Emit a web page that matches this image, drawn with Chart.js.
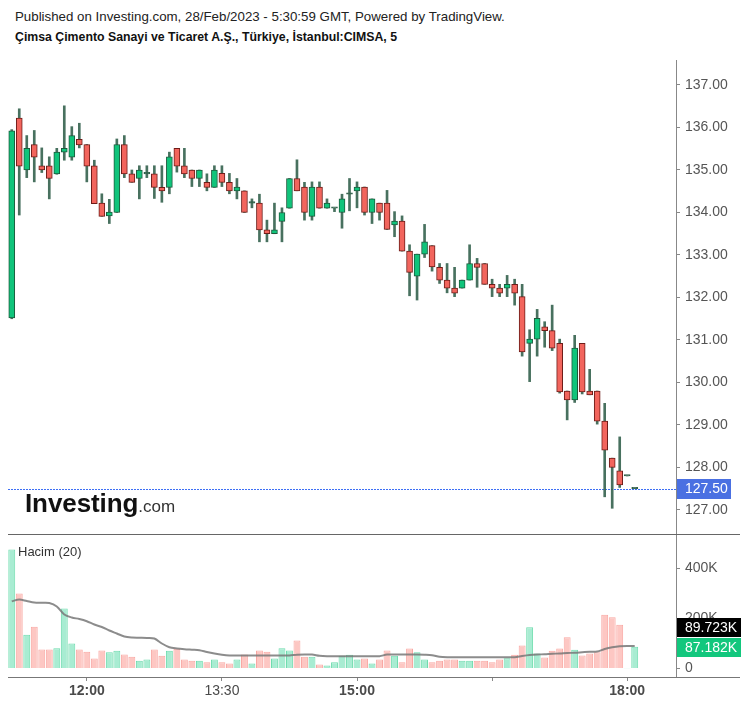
<!DOCTYPE html>
<html>
<head>
<meta charset="utf-8">
<script src="https://cdn.jsdelivr.net/npm/chart.js@4.4.0/dist/chart.umd.min.js"></script>
<style>
html,body{margin:0;padding:0;background:#fff;width:747px;height:707px;overflow:hidden;font-family:"Liberation Sans",Arial,sans-serif;}
#h1{position:absolute;left:15px;top:9px;font-size:13.3px;line-height:15px;color:#222;white-space:nowrap;}
#h2{position:absolute;left:15px;top:30px;font-size:12.3px;line-height:14px;font-weight:bold;color:#111;white-space:nowrap;}
#cA{position:absolute;left:0;top:55px;}
#cB{position:absolute;left:0;top:535px;}
#logo{position:absolute;left:25px;top:491px;line-height:25px;white-space:nowrap;color:#111;z-index:5;}
#logo b{font-size:26px;font-weight:bold;letter-spacing:-0.1px;}
#logo span{font-size:17px;color:#333;}
#hacim{position:absolute;left:18px;top:544px;font-size:13px;line-height:15px;color:#333;z-index:5;}
</style>
</head>
<body>
<div id="h1">Published on Investing.com, 28/Feb/2023 - 5:30:59 GMT, Powered by TradingView.</div>
<div id="h2">Çimsa Çimento Sanayi ve Ticaret A.Ş., Türkiye, İstanbul:CIMSA, 5</div>
<canvas id="cA" width="747" height="480"></canvas>
<canvas id="cB" width="747" height="172"></canvas>
<div id="logo"><b>Investing</b><span>.com</span></div>
<div id="hacim">Hacim (20)</div>
<script>
const FONT = '"Liberation Sans", Arial, sans-serif';

const times = ["11:10","11:15","11:20","11:25","11:30","11:35","11:40","11:45","11:50","11:55",
"12:00","12:05","12:10","12:15","12:20","12:25","12:30","12:35","12:40","12:45","12:50","12:55",
"13:00","13:05","13:10","13:15","13:20","13:25","13:30","13:35","13:40","13:45","13:50","13:55",
"14:00","14:05","14:10","14:15","14:20","14:25","14:30","14:35","14:40","14:45","14:50","14:55",
"15:00","15:05","15:10","15:15","15:20","15:25","15:30","15:35","15:40","15:45","15:50","15:55",
"16:00","16:05","16:10","16:15","16:20","16:25","16:30","16:35","16:40","16:45","16:50","16:55",
"17:00","17:05","17:10","17:15","17:20","17:25","17:30","17:35","17:40","17:45","17:50","17:55",
"18:00","18:05"];
const futureSlots = ["18:10","18:15","18:20","18:25","18:30"];

const open = [131.52,136.22,135.00,135.60,135.10,135.10,134.91,135.42,135.30,135.72,
135.60,135.10,134.22,133.92,134.00,135.60,134.91,134.80,134.91,134.91,
134.59,134.59,135.51,135.10,135.00,134.80,134.71,134.59,134.92,134.71,
134.51,134.51,134.22,134.22,133.59,133.50,133.79,134.10,134.80,134.60,
133.91,134.60,134.10,134.10,134.00,134.43,134.51,134.60,134.00,134.22,
134.22,133.71,133.80,133.09,132.50,133.02,133.22,132.71,132.41,132.22,
132.22,132.41,132.80,132.80,132.31,132.22,132.22,132.31,132.02,130.92,
131.02,131.31,131.22,130.92,129.80,129.59,130.92,129.80,129.80,129.09,
128.22,127.92,127.80,127.50];

const high = [135.95,136.44,135.81,135.93,135.52,135.31,135.51,136.51,136.02,136.10,
135.60,135.23,134.44,134.31,135.73,135.81,135.00,135.10,135.10,135.10,
135.10,135.42,135.51,135.51,135.00,135.00,134.91,135.10,135.10,134.92,
134.80,134.51,134.32,134.43,133.82,134.22,134.11,134.80,135.24,134.71,
134.72,134.72,134.32,134.10,134.43,134.80,134.72,134.60,134.32,134.22,
134.52,134.02,133.92,133.24,133.02,133.72,133.22,132.80,132.80,132.71,
132.41,133.24,132.92,132.80,132.43,132.31,132.52,132.43,132.31,131.24,
131.72,131.43,131.82,131.02,129.80,131.11,130.92,130.31,129.80,129.51,
128.22,128.72,127.80,127.50];

const low = [131.50,133.94,134.82,134.72,134.94,134.32,134.90,135.23,135.23,135.52,
134.72,134.21,133.91,133.74,134.00,134.82,134.71,134.32,134.82,134.33,
134.24,134.44,134.95,134.82,134.61,134.61,134.51,134.59,134.61,134.44,
134.32,134.00,134.11,133.31,133.31,133.50,133.31,134.10,134.51,133.82,
133.82,134.10,134.10,134.02,133.63,134.04,134.11,133.94,133.74,133.82,
133.60,133.43,133.09,132.04,131.94,132.94,132.62,132.33,132.11,132.02,
132.22,132.41,132.24,132.31,132.02,132.02,132.02,131.82,130.62,130.02,
130.62,130.83,130.75,129.75,129.12,129.53,129.73,129.71,129.02,127.31,
127.04,127.53,127.80,127.50];

const close = [135.92,135.09,135.51,135.30,135.00,134.80,135.42,135.51,135.81,135.59,
135.09,134.21,133.91,134.01,135.60,134.91,134.71,135.00,134.91,134.59,
134.51,135.31,135.09,134.91,134.80,135.00,134.59,135.00,134.71,134.51,
134.60,134.00,134.22,133.59,133.50,133.59,134.00,134.80,134.51,134.00,
134.60,134.10,134.22,134.10,134.32,134.43,134.60,134.00,134.32,134.00,
133.60,133.80,133.09,132.59,133.02,133.31,132.72,132.41,132.22,132.10,
132.41,132.80,132.71,132.31,132.22,132.10,132.31,132.10,130.72,131.02,
131.51,131.22,130.81,129.78,129.59,130.81,129.78,129.71,129.09,128.41,
128.00,127.59,127.80,127.50];

const volume = [476000,300000,135000,167000,76000,76000,81000,240000,100000,76000,
67000,40000,72000,65000,71000,56000,47000,31000,36000,76000,
51000,71000,79000,36000,31000,31000,25000,36000,25000,20000,
36000,56000,20000,72000,67000,40000,81000,72000,112000,47000,
47000,16000,12000,25000,51000,55000,36000,40000,20000,36000,
72000,51000,25000,80000,65000,36000,25000,31000,36000,36000,
31000,31000,31000,31000,25000,36000,41000,55000,92000,165000,
60000,44000,71000,80000,125000,75000,52000,60000,65000,215000,
205000,175000,1500,87182];

const volMA = [269000,276000,270000,264000,263000,262000,248000,216000,204000,198000,
189000,176000,166000,152000,140000,128000,124000,123000,122000,120000,
100000,85000,80000,77000,75000,73000,66000,60000,55000,52000,
52000,52000,52000,52000,52000,52000,52000,52000,55000,56000,
56000,51000,49000,49000,49000,49000,49000,49000,49000,49000,
56000,56000,56000,56000,56000,55000,53000,47000,45000,45000,
45000,45000,45000,45000,45000,45000,45000,45000,50000,54000,
56000,57000,59000,60000,62000,63000,65000,67000,68000,78000,
85000,89000,90000,89723];

const priceTicks = [127,128,129,130,131,132,133,134,135,136,137];
const volumeTicks = [0,200000,400000];
const axisTimes = ["12:00","13:30","15:00","16:30","18:00"];
const boldTimes = ["12:00","15:00","18:00"];
const hiddenTimes = ["16:30"];
const lastPrice = 127.50;

const slots = times.concat(futureSlots);
const isUp = close.map((c,i)=> c >= open[i]);
const isDoji = close.map((c,i)=> c === open[i]);

const bodyData = open.map((o,i)=>[o, close[i]]);
const wickData = low.map((l,i)=>[l, high[i]]);
const bodyFill = isUp.map((u,i)=> isDoji[i] ? '#2f5f49' : (u ? '#10c47b' : '#f2655d'));
const bodyBorder = isUp.map((u,i)=> isDoji[i] ? '#2f5f49' : (u ? '#1c5a3c' : '#6e1c18'));
const volFill = isUp.map(u=> u ? '#a8ecd2' : '#fdc7c3');
const volBorder = isUp.map(u=> u ? '#6fdcae' : '#f9a7a2');

const priceDeco = {
  id:'priceDeco',
  beforeDatasetsDraw(chart){
    const {ctx, chartArea, scales:{y}} = chart;
    const py = Math.round(y.getPixelForValue(lastPrice));
    ctx.save();
    ctx.fillStyle = '#3d6ff5';
    for (let x = Math.round(chartArea.left); x < chartArea.right; x += 3) {
      ctx.fillRect(x, py, 2, 1);
    }
    ctx.restore();
  },
  afterDraw(chart){
    const {ctx, chartArea, scales:{y}} = chart;
    const py = y.getPixelForValue(lastPrice);
    ctx.save();
    ctx.fillStyle = '#4a70e2';
    ctx.fillRect(chartArea.right + 1, Math.round(py) - 10, 54, 20);
    ctx.fillStyle = '#ffffff';
    ctx.font = '14px ' + FONT;
    ctx.textBaseline = 'middle';
    ctx.textAlign = 'left';
    ctx.fillText(lastPrice.toFixed(2), chartArea.right + 9, py + 0.5);
    ctx.strokeStyle = '#666';
    ctx.lineWidth = 1;
    ctx.beginPath(); ctx.moveTo(chartArea.left, chartArea.bottom + 0.5); ctx.lineTo(740, chartArea.bottom + 0.5); ctx.stroke();
    ctx.restore();
  }
};

new Chart(document.getElementById('cA'), {
  type:'bar',
  data:{
    labels: slots,
    datasets:[
      {label:'wick', data: wickData, backgroundColor:'rgba(52,98,78,0.9)', barThickness:2, grouped:false, order:2},
      {label:'body', data: bodyData, backgroundColor: bodyFill, borderColor: bodyBorder, borderWidth:1, borderSkipped:false, barThickness:6, minBarLength:1.5, grouped:false, order:1}
    ]
  },
  options:{
    responsive:false, animation:false, devicePixelRatio:1,
    layout:{padding:{left:8, top:5, right:0, bottom:1}},
    plugins:{legend:{display:false}, tooltip:{enabled:false}},
    scales:{
      x:{display:false, offset:true, grid:{display:false}},
      y:{
        position:'right', min:126.435, max:137.588,
        afterFit(s){ s.width = 71; s.paddingTop = 0; s.paddingBottom = 0; },
        afterBuildTicks(s){ s.ticks = priceTicks.map(v=>({value:v})); },
        ticks:{callback:v=>Number(v).toFixed(2), color:'#555', font:{size:14, family:FONT}, padding:5},
        grid:{drawOnChartArea:false, drawTicks:true, tickLength:4, color:'#888'},
        border:{display:true, color:'#888'}
      }
    }
  },
  plugins:[priceDeco]
});

const volDeco = {
  id:'volDeco',
  afterDraw(chart){
    const {ctx, chartArea, scales:{y}} = chart;
    ctx.save();
    ctx.strokeStyle = '#777';
    ctx.lineWidth = 1;
    ctx.beginPath(); ctx.moveTo(chartArea.left, chartArea.bottom + 0.5); ctx.lineTo(740, chartArea.bottom + 0.5); ctx.stroke();
    const vLast = volume[volume.length-1];
    const mLast = volMA[volMA.length-1];
    const gy = Math.round(y.getPixelForValue(vLast)) + 1;
    let by = Math.round(y.getPixelForValue(mLast));
    if (by > gy - 20) by = gy - 20;
    ctx.font = '14px ' + FONT;
    ctx.textBaseline = 'middle';
    ctx.textAlign = 'left';
    ctx.fillStyle = '#000';
    ctx.fillRect(chartArea.right + 1, by - 10, 64, 19);
    ctx.fillStyle = '#fff';
    ctx.fillText((mLast/1000).toFixed(3) + 'K', chartArea.right + 9, by);
    ctx.fillStyle = '#12c77d';
    ctx.fillRect(chartArea.right + 1, gy - 10, 64, 19);
    ctx.fillStyle = '#fff';
    ctx.fillText((vLast/1000).toFixed(3) + 'K', chartArea.right + 9, gy);
    ctx.restore();
  }
};

new Chart(document.getElementById('cB'), {
  data:{
    labels: slots,
    datasets:[
      {type:'line', label:'ma', data: volMA, borderColor:'rgba(120,120,120,0.85)', borderWidth:2, pointRadius:0, tension:0.3, order:0},
      {type:'bar', label:'vol', data: volume, backgroundColor: volFill, borderColor: volBorder, borderWidth:1, barPercentage:0.92, categoryPercentage:1, order:1}
    ]
  },
  options:{
    responsive:false, animation:false, devicePixelRatio:1,
    layout:{padding:{left:8, top:0, right:0, bottom:0}},
    plugins:{legend:{display:false}, tooltip:{enabled:false}},
    scales:{
      x:{
        offset:true,
        afterFit(s){ s.height = 30; s.paddingLeft = 0; s.paddingRight = 0; },
        afterBuildTicks(s){ s.ticks = slots.map((t,i)=>({value:i})).filter(t=>axisTimes.includes(slots[t.value])); },
        ticks:{
          autoSkip:false, maxRotation:0, minRotation:0, padding:2, color:'#4a4a4a',
          callback(value){ const s = slots[value]; return hiddenTimes.includes(s) ? '' : s; },
          font(c){ const s = c.tick ? slots[c.tick.value] : ''; return {size:14, family:FONT, weight: boldTimes.includes(s) ? 'bold' : 'normal'}; }
        },
        grid:{offset:false, drawOnChartArea:false, drawTicks:true, tickLength:4, color:'#888'},
        border:{display:false}
      },
      y:{
        position:'right', min:-34000, max:534000,
        afterFit(s){ s.width = 71; s.paddingTop = 0; s.paddingBottom = 0; },
        afterBuildTicks(s){ s.ticks = volumeTicks.map(v=>({value:v})); },
        ticks:{callback:v=> v === 0 ? '0' : (v/1000) + 'K', color:'#555', font:{size:14, family:FONT}, padding:5},
        grid:{drawOnChartArea:false, drawTicks:true, tickLength:4, color:'#888'},
        border:{display:true, color:'#888'}
      }
    }
  },
  plugins:[volDeco]
});
</script>
</body>
</html>
